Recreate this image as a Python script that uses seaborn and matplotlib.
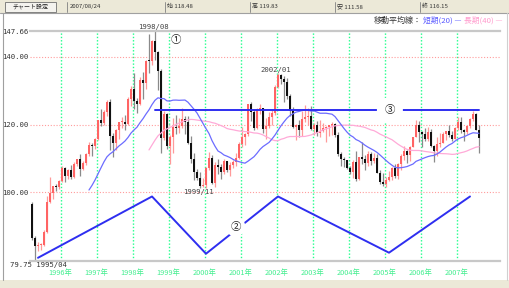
import numpy as np
import pandas as pd
import matplotlib
matplotlib.use("Agg")
import matplotlib.pyplot as plt
import seaborn as sns
from matplotlib.patches import Rectangle
from matplotlib.lines import Line2D

# ---------------- data (USD/JPY monthly, 1995/03 - 2007/08) ----------------
start_month = "1995-03"
open_ = [
    96.5, 86.6, 84.2, 84.5, 84.6, 88.4, 97.3, 99.7, 101.9, 101.5,                  # 1995
    103.5, 107.2, 104.9, 106.5, 104.6, 108.4, 109.8, 106.8, 108.6, 111.4, 113.9, 113.7,  # 1996
    115.8, 121.3, 120.4, 123.8, 126.8, 116.8, 114.6, 118.4, 120.8, 120.8, 120.3, 127.6,  # 1997
    130.5, 126.9, 126.1, 133.3, 132.2, 138.8, 138.7, 144.7, 141.4, 135.8, 116.1, 123.1,  # 1998
    113.6, 116.3, 119.4, 118.9, 119.5, 121.6, 120.9, 114.7, 110.0, 106.0, 104.2, 102.0,  # 1999
    102.2, 107.3, 110.2, 102.9, 108.1, 107.6, 106.0, 109.4, 106.7, 108.2, 108.9, 110.3,  # 2000
    114.4, 116.4, 117.3, 126.1, 123.6, 119.0, 124.6, 124.9, 118.8, 119.5, 122.4, 123.5,  # 2001
    131.2, 134.7, 133.5, 132.7, 128.5, 124.0, 119.3, 119.8, 118.4, 121.8, 122.4, 122.6,  # 2002
    118.8, 119.9, 117.6, 118.1, 119.1, 119.4, 119.8, 120.3, 117.1, 111.3, 109.9, 109.5,  # 2003
    107.2, 105.9, 109.1, 103.9, 110.4, 109.8, 108.8, 111.4, 109.3, 110.1, 105.8, 103.1,  # 2004
    102.6, 103.6, 104.5, 107.1, 104.9, 108.3, 110.8, 112.2, 111.1, 113.4, 116.4, 119.8,  # 2005
    117.9, 117.2, 115.8, 117.8, 113.8, 112.3, 114.4, 114.6, 117.3, 118.1, 116.9, 115.9,  # 2006
    119.0, 120.7, 118.5, 117.8, 119.5, 121.7, 123.2, 118.48,                          # 2007
]
high = [
    97.2, 87.0, 85.5, 85.2, 88.8, 99.0, 104.5, 101.3, 102.5, 103.6,
    107.9, 107.6, 107.0, 108.0, 109.0, 109.9, 111.2, 109.4, 111.6, 114.9, 114.5, 116.2,
    121.5, 124.6, 124.3, 127.2, 127.5, 117.5, 118.6, 120.8, 122.2, 123.0, 128.2, 131.5,
    135.2, 128.0, 134.2, 135.5, 139.2, 146.8, 144.9, 147.66, 141.9, 136.5, 124.0, 123.4,
    117.0, 122.0, 123.0, 122.0, 124.8, 122.7, 122.5, 116.6, 111.7, 107.0, 106.0, 104.3,
    107.6, 112.0, 111.0, 109.0, 110.0, 108.3, 109.8, 109.4, 109.0, 109.7, 111.5, 115.0,
    119.4, 117.6, 126.2, 126.8, 124.7, 125.0, 126.0, 125.0, 121.9, 123.6, 124.4, 131.6,
    135.2, 135.0, 134.3, 133.9, 129.0, 125.3, 120.3, 121.5, 124.0, 125.7, 125.0, 125.4,
    120.4, 121.0, 121.4, 120.6, 119.7, 120.0, 120.7, 120.6, 117.8, 112.0, 110.6, 109.7,
    107.8, 109.7, 112.2, 110.5, 114.9, 111.0, 112.2, 111.8, 111.5, 111.4, 106.5, 105.6,
    104.5, 106.4, 107.5, 108.3, 108.6, 111.2, 113.7, 112.6, 113.7, 116.4, 121.4, 121.0,
    118.0, 119.0, 119.4, 118.7, 114.1, 116.4, 117.4, 117.8, 118.2, 119.9, 118.1, 119.4,
    122.2, 122.2, 118.6, 120.0, 122.0, 124.1, 123.4, 119.83,
]
low = [
    86.0, 79.75, 82.8, 82.9, 84.3, 88.0, 97.0, 98.0, 100.5, 100.9,
    103.0, 103.2, 103.9, 104.0, 104.3, 107.7, 104.8, 106.5, 108.2, 110.8, 110.8, 112.9,
    115.5, 119.5, 120.0, 122.5, 112.6, 110.6, 112.4, 115.8, 119.0, 118.5, 120.0, 125.5,
    124.6, 123.4, 125.8, 127.5, 130.5, 135.3, 137.5, 139.2, 130.3, 111.6, 115.5, 112.8,
    108.3, 111.6, 117.2, 117.5, 119.0, 117.2, 114.4, 108.8, 103.6, 103.6, 101.2, 101.5,
    101.4, 106.6, 102.5, 101.5, 105.5, 103.9, 105.3, 106.0, 104.8, 107.3, 107.8, 110.0,
    113.3, 114.0, 116.6, 121.0, 118.4, 118.6, 123.3, 117.6, 115.8, 118.9, 120.0, 123.0,
    130.9, 132.0, 126.7, 127.5, 122.7, 118.9, 115.6, 116.5, 116.7, 120.9, 119.8, 118.5,
    116.9, 116.7, 116.5, 117.8, 115.0, 116.8, 117.0, 116.5, 110.9, 107.9, 107.6, 106.8,
    105.3, 104.2, 103.4, 103.7, 108.5, 106.7, 107.9, 108.1, 108.8, 105.6, 102.5, 101.8,
    101.7, 103.3, 103.7, 104.3, 104.0, 106.6, 109.7, 108.7, 109.3, 113.3, 116.3, 114.9,
    113.4, 115.3, 115.3, 113.4, 108.9, 110.8, 113.4, 114.5, 115.4, 116.4, 115.1, 115.7,
    118.5, 117.6, 115.2, 117.3, 118.9, 121.1, 118.3, 111.58,
]
close = [
    86.6, 84.2, 84.5, 84.6, 88.4, 97.3, 99.7, 101.9, 101.5, 103.5,
    107.2, 104.9, 106.5, 104.6, 108.4, 109.8, 106.8, 108.6, 111.4, 113.9, 113.7, 115.8,
    121.3, 120.4, 123.8, 126.8, 116.8, 114.6, 118.4, 120.8, 120.8, 120.3, 127.6, 130.5,
    126.9, 126.1, 133.3, 132.2, 138.8, 138.7, 144.7, 141.4, 135.8, 116.1, 123.1, 113.6,
    116.3, 119.4, 118.9, 119.5, 121.6, 120.9, 114.7, 110.0, 106.0, 104.2, 102.0, 102.2,
    107.3, 110.2, 102.9, 108.1, 107.6, 106.0, 109.4, 106.7, 108.2, 108.9, 110.3, 114.4,
    116.4, 117.3, 126.1, 123.6, 119.0, 124.6, 124.9, 118.8, 119.5, 122.4, 123.5, 131.2,
    134.7, 133.5, 132.7, 128.5, 124.0, 119.3, 119.8, 118.4, 121.8, 122.4, 122.6, 118.8,
    119.9, 117.6, 118.1, 119.1, 119.4, 119.8, 120.3, 117.1, 111.3, 109.9, 109.5, 107.2,
    105.9, 109.1, 103.9, 110.4, 109.8, 108.8, 111.4, 109.3, 110.1, 105.8, 103.1, 102.6,
    103.6, 104.5, 107.1, 104.9, 108.3, 110.8, 112.2, 111.1, 113.4, 116.4, 119.8, 117.9,
    117.2, 115.8, 117.8, 113.8, 112.3, 114.4, 114.6, 117.3, 118.1, 116.9, 115.9, 119.0,
    120.7, 118.5, 117.8, 119.5, 121.7, 123.2, 118.5, 116.15,
]

# y-axis tick labels
ytick_values = [147.66, 140.0, 120.0, 100.0]
ytick_labels = ["147.66", "140.00", "120.00", "100.00"]
# x-axis year labels (placed at January of each year)
year_labels = ["1996年", "1997年", "1998年", "1999年", "2000年", "2001年",
               "2002年", "2003年", "2004年", "2005年", "2006年", "2007年"]

# trend lines drawn on the chart
zig_months = ["1995/05", "1998/07", "2000/01", "2002/01", "2005/02", "2007/05"]
zig_values = [80.7, 98.8, 81.9, 98.8, 82.2, 98.8]
res_months = ["1998/08", "2007/08"]
res_value = 124.3

# header fields
header_date = "2007/08/24"
header_fields = ["始 118.48", "高 119.83", "安 111.58", "終 116.15"]

# ---------------- build table ----------------
periods = pd.period_range(start_month, periods=len(close), freq="M")
df = pd.DataFrame({"open": open_, "high": high, "low": low, "close": close})
df["label"] = [p.strftime("%Y/%m") for p in periods]
df["i"] = np.arange(len(df))
df["ma20"] = df["close"].rolling(20).mean()
df["ma40"] = df["close"].rolling(40).mean()
pos = {lab: i for lab, i in zip(df["label"], df["i"])}

def mpos(lab):
    return pos[lab]

# ---------------- figure ----------------
sns.set_theme(style="white")
plt.rcParams["font.family"] = ["Noto Sans CJK JP", "DejaVu Sans"]

W, H = 510, 288
fig = plt.figure(figsize=(W / 100, H / 100), dpi=100)
fig.patch.set_facecolor("white")

def fx(px):
    return px / W

def fy(py):
    return 1 - py / H

# window decorations
fig.patches.append(Rectangle((0, fy(13)), 1, 13 / H, transform=fig.transFigure,
                             fc="#ece9d8", ec="none", zorder=0))
fig.patches.append(Rectangle((0, 0), 1, 8 / H, transform=fig.transFigure,
                             fc="#ece9d8", ec="none", zorder=0))
fig.lines.append(Line2D([fx(0), fx(510)], [fy(13), fy(13)], transform=fig.transFigure,
                        color="#a0a0a0", lw=0.8))
fig.lines.append(Line2D([fx(3), fx(3)], [fy(13), fy(280)], transform=fig.transFigure,
                        color="#a0a0a0", lw=0.8))
fig.lines.append(Line2D([fx(507), fx(507)], [fy(13), fy(280)], transform=fig.transFigure,
                        color="#d0d0d0", lw=0.8))
# button
fig.patches.append(Rectangle((fx(5), fy(11.5)), 51 / W, 10 / H, transform=fig.transFigure,
                             fc="#f4f3ee", ec="#707070", lw=0.6, zorder=1))
fig.text(fx(30.5), fy(6.5), "チャート設定", fontsize=4.3, ha="center", va="center",
         color="#222222")
# fields
field_x = [67, 165, 250, 335, 420]
for k, xs in enumerate(field_x):
    fig.lines.append(Line2D([fx(xs), fx(xs)], [fy(11.5), fy(1.5)], transform=fig.transFigure,
                            color="#808080", lw=0.6))
    txt = header_date if k == 0 else header_fields[k - 1]
    fig.text(fx(xs + 2.5), fy(6.5), txt, fontsize=4.3, ha="left", va="center",
             color="#333333")

# legend
fig.text(fx(422), fy(20.5), "移動平均線：", fontsize=5.8, ha="right", va="center", color="#333333")
fig.text(fx(423), fy(20.5), "短期(20) —", fontsize=5.6, ha="left", va="center", color="#5a5aff")
fig.text(fx(464), fy(20.5), "長期(40) —", fontsize=5.6, ha="left", va="center", color="#ff99cc")

# main axes
ax = fig.add_axes([fx(30), fy(261), 470 / W, 230 / H])
ax.set_facecolor("white")
ax.set_xlim(-0.667, 156)
ax.set_ylim(79.75, 147.66)

# grid lines
jan_pos = [mpos(f"{y}/01") - 0.5 for y in range(1996, 2008)]
for xg in jan_pos:
    ax.axvline(xg, color="#22ff8c", lw=1.0, ls=(0, (1, 1.4)), zorder=1)
for yg in [140, 120, 100]:
    ax.axhline(yg, color="#ff9c9c", lw=0.8, ls=(0, (1, 1.6)), zorder=1)

# candles
up = df[df["close"] >= df["open"]]
dn = df[df["close"] < df["open"]]
ax.vlines(up["i"], up["low"], up["high"], color="#ff9a9a", lw=0.9, zorder=2)
ax.vlines(dn["i"], dn["low"], dn["high"], color="#8a8a8a", lw=0.9, zorder=2)
ax.bar(up["i"], np.maximum(up["close"] - up["open"], 0.3), bottom=up["open"], width=0.75,
       color="#ff6464", linewidth=0, zorder=3)
ax.bar(dn["i"], np.maximum(dn["open"] - dn["close"], 0.3), bottom=dn["close"], width=0.75,
       color="#111111", linewidth=0, zorder=3)

# moving averages
sns.lineplot(data=df, x="i", y="ma40", color="#ffaad8", lw=0.9, ax=ax, zorder=4)
sns.lineplot(data=df, x="i", y="ma20", color="#6c6cff", lw=0.9, ax=ax, zorder=4)

# trend lines
zig_df = pd.DataFrame({"i": [mpos(m) for m in zig_months], "v": zig_values})
sns.lineplot(data=zig_df, x="i", y="v", color="#2e2ef0", lw=1.4, ax=ax, zorder=5,
             sort=False)
res_df = pd.DataFrame({"i": [mpos(m) for m in res_months], "v": [res_value] * 2})
sns.lineplot(data=res_df, x="i", y="v", color="#2e2ef0", lw=1.4, ax=ax, zorder=5)

circ = dict(boxstyle="circle,pad=0.45", fc="white", ec="none")
ax.text(48, 144.9, "①", fontsize=7.5, ha="center", va="center", color="#222222", zorder=6)
ax.text(67.8, 89.9, "②", fontsize=7.5, ha="center", va="center", color="#222222", zorder=6,
        bbox=circ)
ax.text(119.3, res_value, "③", fontsize=7.5, ha="center", va="center", color="#222222",
        zorder=6, bbox=dict(boxstyle="circle,pad=0.75", fc="white", ec="none"))

mono = "DejaVu Sans Mono"
ax.text(40.3, 147.66 + 0.4, "1998/08", fontsize=5.2, family=mono, ha="center", va="bottom",
        color="#444444")
ax.text(55.5, 100.1, "1999/11", fontsize=5.2, family=mono, ha="center", va="center",
        color="#444444", zorder=6)
ax.text(81.3, 136.1, "2002/01", fontsize=5.2, family=mono, ha="center", va="center",
        color="#444444", zorder=6)

# axes styling
for s in ["left", "right"]:
    ax.spines[s].set_visible(False)
for s in ["top", "bottom"]:
    ax.spines[s].set_color("#c8c8c8")
    ax.spines[s].set_linewidth(1.6)
ax.set_xlabel("")
ax.set_ylabel("")
ax.set_yticks(ytick_values)
ax.set_yticklabels(ytick_labels, family=mono, fontsize=5.2, color="#333333")
ax.set_xticks(jan_pos)
ax.set_xticklabels(year_labels, fontsize=5.3, color="#44ee90")
ax.tick_params(axis="y", length=0, pad=1)
ax.tick_params(axis="x", length=0, pad=6)
fig.text(fx(10), fy(265.5), "79.75 1995/04", family=mono, fontsize=5.2, ha="left",
         va="center", color="#333333")

fig.savefig("out.png", dpi=100)
